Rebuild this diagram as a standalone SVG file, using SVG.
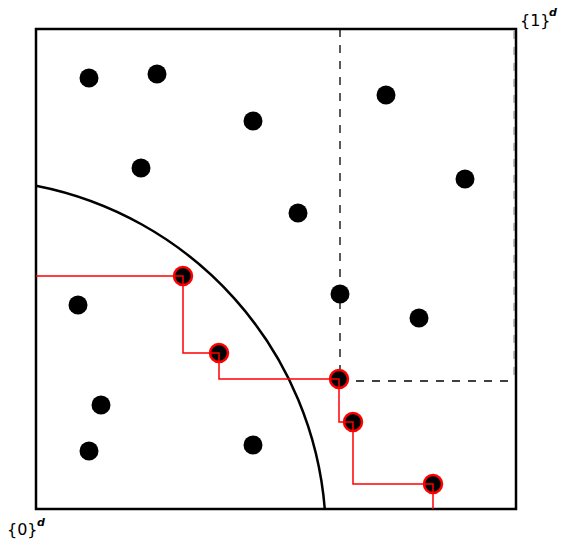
<svg xmlns="http://www.w3.org/2000/svg" width="564" height="540" viewBox="0 0 564 540">
<style>
.dot{fill:#000}
.sel{fill:#000;stroke:#ff0000;stroke-width:2.5}
.lbl{font-family:"DejaVu Sans",sans-serif;font-size:16px;fill:#000}
.sup{font-family:"DejaVu Sans",sans-serif;font-size:11px;font-weight:bold;font-style:italic;fill:#000}
</style>
<rect width="564" height="540" fill="#fff"/>
<g id="frame">
<rect x="36" y="29" width="480" height="480" fill="none" stroke="#000" stroke-width="2.5"/>
</g>
<g id="box">
<path d="M340,29 V381 H516" fill="none" stroke="#000" stroke-width="1.3" stroke-dasharray="8,8"/>
<path d="M340,29 H514 V381" fill="none" stroke="#000" stroke-width="1" stroke-dasharray="8,8" opacity="0.5"/>
</g>
<g id="arc">
<path d="M36,185.7 A359,359 0 0 1 324.8,509" fill="none" stroke="#000" stroke-width="2.5"/>
</g>
<g id="points">
<circle class="dot" cx="89" cy="78" r="9.5"/>
<circle class="dot" cx="157" cy="74" r="9.5"/>
<circle class="dot" cx="253" cy="121" r="9.5"/>
<circle class="dot" cx="386" cy="95" r="9.5"/>
<circle class="dot" cx="141" cy="168" r="9.5"/>
<circle class="dot" cx="465" cy="179" r="9.5"/>
<circle class="dot" cx="298" cy="213" r="9.5"/>
<circle class="dot" cx="78" cy="305" r="9.5"/>
<circle class="dot" cx="340" cy="294" r="9.5"/>
<circle class="dot" cx="419" cy="318" r="9.5"/>
<circle class="dot" cx="101" cy="405" r="9.5"/>
<circle class="dot" cx="89" cy="451" r="9.5"/>
<circle class="dot" cx="253" cy="445" r="9.5"/>
</g>
<g id="selected">
<circle class="sel" cx="183" cy="276" r="9"/>
<circle class="sel" cx="219" cy="353" r="9"/>
<circle class="sel" cx="339" cy="379" r="9"/>
<circle class="sel" cx="353" cy="422" r="9"/>
<circle class="sel" cx="433" cy="484" r="9"/>
</g>
<g id="connectors">
<path d="M36,276 H183 V353 H219 V379 H339 V422 H353 V484 H433 V509" fill="none" stroke="#ff0000" stroke-width="1.5"/>
</g>
<g id="labels">
<text class="lbl" x="520" y="26">{1}</text>
<text class="sup" x="549" y="16">d</text>
<text class="lbl" x="7" y="535">{0}</text>
<text class="sup" x="37" y="526">d</text>
</g>
</svg>
